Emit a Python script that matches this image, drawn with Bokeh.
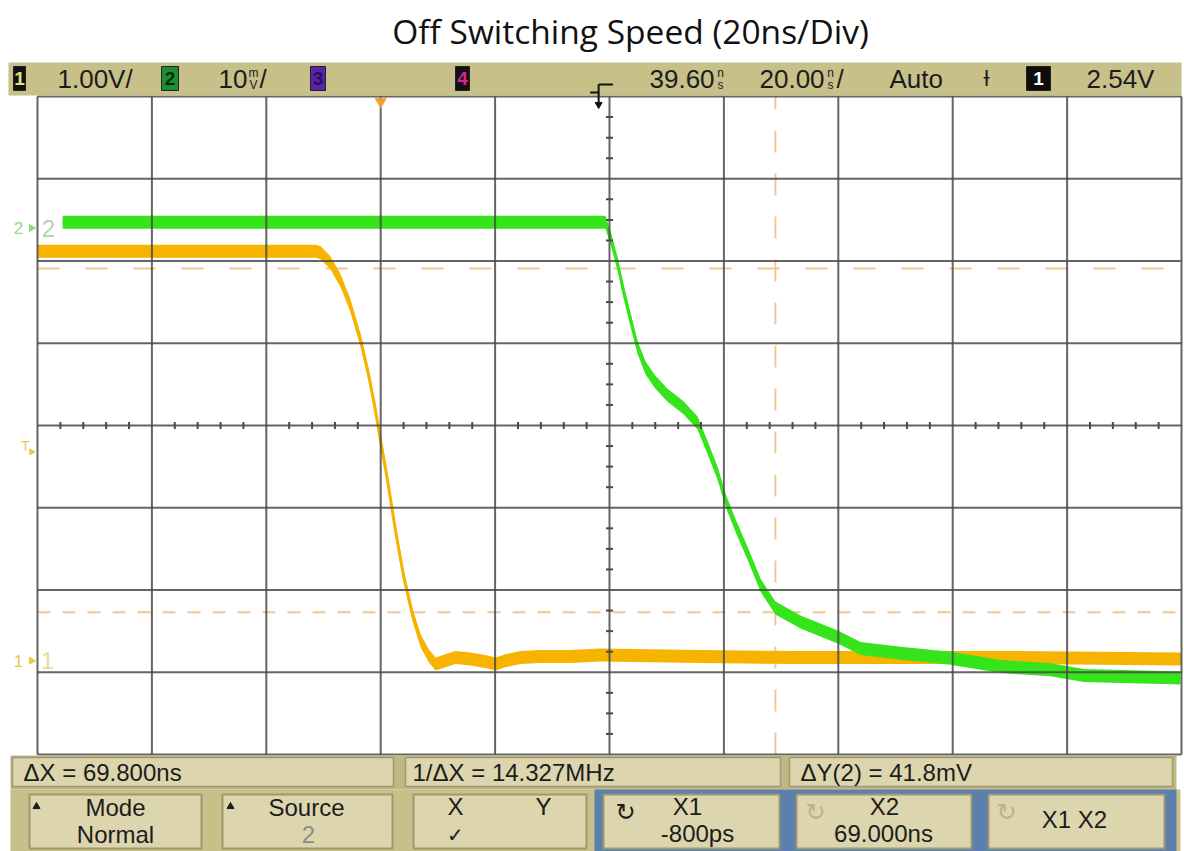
import numpy as np
from bokeh.plotting import figure
from bokeh.models import Range1d, ColumnDataSource
from bokeh.core.properties import value
from bokeh.embed import file_html
from bokeh.resources import INLINE

# ---------------------------------------------------------------- data
TITLE = "Off Switching Speed (20ns/Div)"

time_grid_ns = [-60, -40, -20, 0, 20, 40, 60, 80, 100, 120, 140]   # 20 ns/div
div_grid = [-4, -3, -2, -1, 0, 1, 2, 3, 4]                         # 8 vertical divisions

# channel 1 (yellow), volts
ch1_time_ns = [-60.0, -11.4, -10.5, -8.8, -7.0, -5.3, -3.5, -2.1, -0.9, 0.0, 1.2, 2.6,
               4.0, 5.6, 7.0, 8.4, 9.6, 11.3, 13.1, 15.7, 18.3, 20.1, 21.8, 24.4,
               27.9, 33.2, 38.4, 47.2, 55.9, 73.4, 90.9, 108.4, 125.8, 140.0]
ch1_volts = [4.98, 4.98, 4.96, 4.84, 4.62, 4.32, 3.89, 3.47, 3.04, 2.67, 2.19, 1.58,
             1.03, 0.55, 0.24, 0.06, -0.04, 0.00, 0.04, 0.02, -0.01, -0.04, 0.00, 0.04,
             0.05, 0.05, 0.07, 0.06, 0.05, 0.04, 0.04, 0.04, 0.03, 0.02]

# channel 2 (green), millivolts
ch2_time_ns = [-55.6, 39.3, 40.2, 41.4, 42.4, 43.7, 44.9, 46.3, 48.0, 50.1, 52.9, 55.4,
               57.1, 58.9, 60.3, 62.0, 64.3, 66.4, 69.0, 73.4, 79.9, 83.9, 90.9, 99.6,
               108.4, 117.1, 122.9, 139.8]
ch2_mv = [0.7, 0.7, -1.2, -4.3, -7.5, -11.2, -14.5, -17.0, -18.7, -20.3, -21.8, -23.7,
          -26.6, -29.8, -33.1, -36.1, -39.8, -43.4, -46.2, -47.9, -49.7, -51.1, -51.7, -52.3,
          -53.3, -53.7, -54.4, -54.7]

ch1_volts_per_div = 1.0
ch2_mv_per_div = 10.0
ch1_ground_div = -2.86
ch2_ground_div = 2.40
trigger_level_v = 2.54
delay_ns = 39.60
cursor_x_ns = [-0.8, 69.0]
cursor_y_mv = [-4.9, -46.7]

footer_readouts = ["\u0394X = 69.800ns", "1/\u0394X = 14.327MHz", "\u0394Y(2) = 41.8mV"]

# ---------------------------------------------------------------- layout helpers
W, H = 1184, 851
NS_PER_PX = 200.0 / 1144.0
DIV_PER_PX = 8.0 / 658.0


def X(px):
    return -60.0 + (px - 37.0) * NS_PER_PX


def Y(py):
    return 4.0 - (py - 96.0) * DIV_PER_PX


YELLOW = "#f6b400"
GREEN = "#35e41a"
GRID = "#4a4a4a"
CURSOR = "#f1bc85"
TAN = "#c8c089"
TAN_DARK = "#bfb784"
BOX = "#dcd5ad"
BOX_LINE = "#9e9771"
BLUE = "#5c7fae"
INK = "#1c1c1c"
FONT = value("Liberation Sans")

p = figure(width=W, height=H, x_range=Range1d(X(0), X(W)), y_range=Range1d(Y(H), Y(0)),
           output_backend="svg", toolbar_location=None, x_axis_location=None, y_axis_location=None,
           min_border=0, outline_line_color=None)
p.background_fill_color = "white"
p.border_fill_color = "white"
p.xgrid.visible = False
p.ygrid.visible = False

# ---------------------------------------------------------------- cursors (under traces)
# X1 (-0.8 ns) sits under the graticule line; only the X2 cursor is visible
p.segment(x0=[cursor_x_ns[1]], y0=[-4], x1=[cursor_x_ns[1]], y1=[4], line_color=CURSOR, line_width=2,
          line_dash="22 21", line_alpha=0.85)
cy = [m / ch2_mv_per_div + ch2_ground_div for m in cursor_y_mv]
p.segment(x0=[-60], y0=[cy[0]], x1=[140], y1=[cy[0]], line_color=CURSOR, line_width=2,
          line_dash="22 26", line_alpha=0.85)
p.segment(x0=[-60], y0=[cy[1]], x1=[140], y1=[cy[1]], line_color=CURSOR, line_width=2,
          line_dash="13 12", line_alpha=0.85)

# ---------------------------------------------------------------- traces
half = 6.5 * DIV_PER_PX
c1 = np.array(ch1_volts) / ch1_volts_per_div + ch1_ground_div
c2 = np.array(ch2_mv) / ch2_mv_per_div + ch2_ground_div
p.varea(x=ch1_time_ns, y1=c1 - half, y2=c1 + half, fill_color=YELLOW)
p.line(ch1_time_ns, c1, line_color=YELLOW, line_width=3)
p.varea(x=ch2_time_ns, y1=c2 - half, y2=c2 + half, fill_color=GREEN)
p.line(ch2_time_ns, c2, line_color=GREEN, line_width=3)

# ---------------------------------------------------------------- graticule (over traces)
p.segment(x0=time_grid_ns, y0=[-4] * len(time_grid_ns), x1=time_grid_ns, y1=[4] * len(time_grid_ns),
          line_color=GRID, line_width=2, line_alpha=0.85)
p.segment(x0=[-60] * len(div_grid), y0=div_grid, x1=[140] * len(div_grid), y1=div_grid,
          line_color=GRID, line_width=2, line_alpha=0.85)
minor_t = [t for t in np.arange(-60, 141, 4) if t % 20 != 0]
tk = 3.5 * DIV_PER_PX
p.segment(x0=minor_t, y0=[-tk] * len(minor_t), x1=minor_t, y1=[tk] * len(minor_t),
          line_color=GRID, line_width=2)
minor_d = [d for d in np.arange(-4, 4.01, 0.25) if abs(d - round(d)) > 1e-6]
tkx = 3.5 * NS_PER_PX
p.segment(x0=[40 - tkx] * len(minor_d), y0=minor_d, x1=[40 + tkx] * len(minor_d), y1=minor_d,
          line_color=GRID, line_width=2)

# trigger point marker (top) and ground / trigger markers (left)
p.scatter(x=[0], y=[Y(101)], marker="inverted_triangle", size=11, color="#f0a030")
p.text(x=[X(18)], y=[ch2_ground_div], text=["2"], text_font=FONT, text_font_size="17px",
       text_color="#8fdc7c", text_align="center", text_baseline="middle")
p.scatter(x=[X(31)], y=[ch2_ground_div], marker="triangle", angle=-np.pi / 2, size=7, color="#8fdc7c")
p.text(x=[X(48)], y=[ch2_ground_div], text=["2"], text_font=FONT, text_font_size="24px",
       text_color="#b7cfb1", text_align="center", text_baseline="middle")
p.text(x=[X(18)], y=[ch1_ground_div], text=["1"], text_font=FONT, text_font_size="17px",
       text_color="#e9c94c", text_align="center", text_baseline="middle")
p.scatter(x=[X(31)], y=[ch1_ground_div], marker="triangle", angle=-np.pi / 2, size=7, color="#e9c94c")
p.text(x=[X(47)], y=[ch1_ground_div], text=["1"], text_font=FONT, text_font_size="24px",
       text_color="#e6d9a0", text_align="center", text_baseline="middle")
trig_div = trigger_level_v / ch1_volts_per_div + ch1_ground_div
p.text(x=[X(25)], y=[trig_div + 6 * DIV_PER_PX], text=["T"], text_font=FONT, text_font_size="14px",
       text_color="#e9c94c", text_align="center", text_baseline="middle")
p.scatter(x=[X(31)], y=[trig_div], marker="triangle", angle=-np.pi / 2, size=6, color="#e9c94c")

# ---------------------------------------------------------------- header bar
p.quad(left=[X(8)], right=[X(1181)], bottom=[Y(95)], top=[Y(62)], fill_color=TAN, line_color=None)
badges = [  # left, right, fill, glyph colour, label
    (13, 25, "#111111", "#e5e07a", "1"),
    (161, 178, "#1d8f33", "#0c2a0c", "2"),
    (310, 325, "#5a23a8", "#2c0d60", "3"),
    (455, 469, "#151015", "#d4258e", "4"),
    (1026, 1050, "#0d0d0d", "#ffffff", "1"),
]
for l, r, fc, tc, lab in badges:
    p.quad(left=[X(l)], right=[X(r)], bottom=[Y(90)], top=[Y(66)], fill_color=fc, line_color="#222222")
    p.text(x=[X((l + r) / 2)], y=[Y(78)], text=[lab], text_font=FONT, text_font_size="19px",
           text_font_style="bold", text_color=tc, text_align="center", text_baseline="middle")

hdr = ColumnDataSource(dict(x=[X(57), X(218), X(649), X(759), X(889), X(1086)],
                            y=[Y(78)] * 6,
                            t=["1.00V/", "10", "39.60", "20.00", "Auto", "2.54V"]))
p.text(x="x", y="y", text="t", source=hdr, text_font=FONT, text_font_size="26px",
       text_color=INK, text_align="left", text_baseline="middle")
# small stacked unit glyphs
stk = ColumnDataSource(dict(x=[X(253), X(253), X(720), X(720), X(830), X(830)],
                            y=[Y(72), Y(84), Y(72), Y(84), Y(72), Y(84)],
                            t=["m", "V", "n", "s", "n", "s"]))
p.text(x="x", y="y", text="t", source=stk, text_font=FONT, text_font_size="12px",
       text_color=INK, text_align="center", text_baseline="middle")
p.text(x=[X(259), X(836)], y=[Y(78)] * 2, text=["/", "/"], text_font=FONT, text_font_size="26px",
       text_color=INK, text_align="left", text_baseline="middle")
p.text(x=[X(986)], y=[Y(78)], text=["\u019a"], text_font=value("DejaVu Sans"), text_font_size="22px",
       text_color=INK, text_align="center", text_baseline="middle")
# delay / time-reference marker
dl = delay_ns
p.segment(x0=[dl - 1.5, dl - 1.5, dl - 3.0], y0=[Y(84), Y(84), Y(92)],
          x1=[dl + 1.0, dl - 1.5, dl - 1.5], y1=[Y(84), Y(102), Y(92)], line_color="#111111", line_width=2)
p.scatter(x=[dl - 1.5], y=[Y(104)], marker="inverted_triangle", size=7, color="#111111")

# ---------------------------------------------------------------- footer
p.quad(left=[X(10)], right=[X(1176)], bottom=[Y(789)], top=[Y(755)], fill_color=TAN_DARK, line_color=None)
p.quad(left=[X(12), X(405), X(789)], right=[X(393), X(780), X(1172)], bottom=[Y(786)] * 3,
       top=[Y(757)] * 3, fill_color=BOX, line_color=BOX_LINE, line_width=1.5)
p.text(x=[X(23), X(412), X(800)], y=[Y(772)] * 3, text=footer_readouts, text_font=FONT,
       text_font_size="24px", text_color=INK, text_align="left", text_baseline="middle")

p.quad(left=[X(10)], right=[X(1180)], bottom=[Y(851)], top=[Y(789)], fill_color=TAN, line_color=None)
p.quad(left=[X(594)], right=[X(1176)], bottom=[Y(851)], top=[Y(789)], fill_color=BLUE, line_color=None)
btn_l = [29, 222, 413, 603, 796, 988]
btn_r = [201, 392, 586, 779, 971, 1164]
p.quad(left=[X(v) for v in btn_l], right=[X(v) for v in btn_r], bottom=[Y(848)] * 6, top=[Y(794)] * 6,
       fill_color=BOX, line_color=BOX_LINE, line_width=2)
p.scatter(x=[X(36), X(230)], y=[Y(806)] * 2, marker="triangle", size=7, color=INK)

btn = ColumnDataSource(dict(
    x=[X(115), X(115), X(306), X(455), X(543), X(687), X(697), X(884), X(883), X(1074)],
    y=[Y(807), Y(834), Y(807), Y(806), Y(806), Y(806), Y(833), Y(806), Y(833), Y(819)],
    t=["Mode", "Normal", "Source", "X", "Y", "X1", "-800ps", "X2", "69.000ns", "X1 X2"]))
p.text(x="x", y="y", text="t", source=btn, text_font=FONT, text_font_size="24px",
       text_color=INK, text_align="center", text_baseline="middle")
p.text(x=[X(308)], y=[Y(834)], text=["2"], text_font=FONT, text_font_size="24px",
       text_color="#8c8c8c", text_align="center", text_baseline="middle")
p.text(x=[X(455)], y=[Y(834)], text=["\u2713"], text_font=value("DejaVu Sans"), text_font_size="20px",
       text_color=INK, text_align="center", text_baseline="middle")
p.text(x=[X(625), X(815), X(1006)], y=[Y(811)] * 3, text=["\u21bb"] * 3, text_font=value("DejaVu Sans"),
       text_font_size="24px", text_color=[INK, "#b8b293", "#b8b293"], text_align="center",
       text_baseline="middle")

# ---------------------------------------------------------------- title
p.text(x=[X(630)], y=[Y(30)], text=[TITLE], text_font=value("Open Sans"), text_font_size="33.5px",
       text_color="#111111", text_align="center", text_baseline="middle")

open("out.html", "w").write(file_html(p, INLINE))
